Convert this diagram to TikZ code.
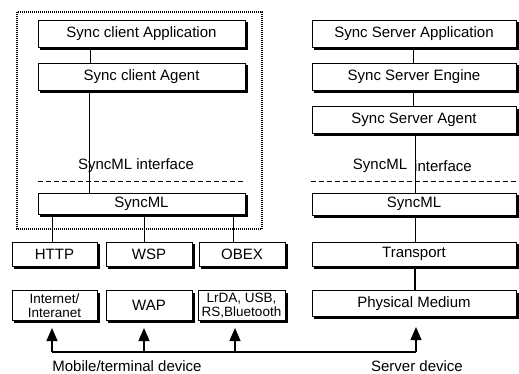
\documentclass[tikz,border=0pt]{standalone}
\usepackage{fontspec}
\setmainfont{Liberation Sans}
\usetikzlibrary{arrows.meta}
\begin{document}
\begin{tikzpicture}[x=1pt,y=-1pt,
  box/.style={draw=black,line width=0.8pt,fill=white,inner sep=0pt,
    font=\fontsize{15}{17}\selectfont},
  bigbox/.style={box,minimum width=#1,minimum height=27pt},
  smallbox/.style={box,minimum width=#1,minimum height=24pt},
  twoline/.style={box,minimum width=#1,minimum height=30pt,align=center,
    font=\fontsize{13.5}{14}\selectfont},
  shade/.style={line width=1.8pt},
  conn/.style={line width=0.9pt},
  arr/.style={line width=1.2pt,-{Triangle[width=11pt,length=13pt]}},
  lbl/.style={font=\fontsize{15}{17}\selectfont,inner sep=0pt},
  sep/.style={line width=0.9pt,dash pattern=on 5pt off 3pt}]
\useasboundingbox (0,0) rectangle (519,373);
\fill[white] (0,0) rectangle (519,373);
% client frame
\draw[line width=1.2pt,dash pattern=on 1pt off 1pt] (17,12) rectangle (262,229);
% client stack
\node[bigbox=207pt] (capp) at (141.5,33.5) {Sync client Application};
\node[bigbox=207pt] (cagent) at (141.5,76.5) {Sync client Agent};
\node[lbl] (cint) at (136,166) {SyncML interface};
\draw[sep] (38,181) -- (245,181);
\node[box,minimum width=207pt,minimum height=21pt] (csml) at (141.5,203.5) {SyncML};
\node[smallbox=85pt] (http) at (54.5,254) {HTTP};
\node[smallbox=86pt] (wsp) at (149,254) {WSP};
\node[smallbox=86pt] (obex) at (242,254) {OBEX};
\node[twoline=85pt] (inet) at (54.5,305.5) {Internet/\\Interanet};
\node[box,minimum width=86pt,minimum height=30pt] (wap) at (149,305.5) {WAP};
\node[twoline=87pt] (lrda) at (241.5,305.5) {LrDA, USB,\\RS,Bluetooth};
% server stack
\node[bigbox=204pt] (sapp) at (414,33.5) {Sync Server Application};
\node[bigbox=204pt] (seng) at (414,76.5) {Sync Server Engine};
\node[bigbox=204pt] (sagent) at (414,120) {Sync Server Agent};
\node[lbl] (ssyn) at (380,166) {SyncML};
\node[lbl] (sint) at (443,166) {interface};
\draw[sep] (311,181) -- (517,181);
\node[box,minimum width=204pt,minimum height=22pt] (ssml) at (414,204) {SyncML};
\node[smallbox=204pt] (trans) at (414,254) {Transport};
\node[box,minimum width=204pt,minimum height=26pt] (phys) at (414,303.5) {Physical Medium};
% box shadows (thick right and bottom edges)
\foreach \n in {capp,cagent,csml,http,wsp,obex,inet,wap,lrda,sapp,seng,sagent,ssml,trans,phys}{
  \draw[shade] ([xshift=1.3pt,yshift=-2.5pt]\n.north east) -- ([xshift=1.3pt,yshift=-1.3pt]\n.south east)
    -- ([xshift=2.5pt,yshift=-1.3pt]\n.south west);
}
% vertical connector positions
\coordinate (xa) at (90,0);
\coordinate (xb) at (89,0);
\coordinate (xh) at (52,0);
\coordinate (xw) at (144,0);
\coordinate (xo) at (233,0);
\coordinate (xs) at (413,0);
\coordinate (xt) at (415,0);
\draw[conn] (capp.south -| xa) -- (cagent.north -| xa);
\draw[conn] (cagent.south -| xb) -- (csml.north -| xb);
\draw[conn] (csml.south -| xh) -- (http.north -| xh);
\draw[conn] (csml.south -| xw) -- (wsp.north -| xw);
\draw[conn] (csml.south -| xo) -- (obex.north -| xo);
\draw[conn] (sapp.south -| xs) -- (seng.north -| xs);
\draw[conn] (seng.south -| xs) -- (sagent.north -| xs);
\draw[conn] (sagent.south -| xt) -- (ssml.north -| xt);
\draw[conn] (ssml.south -| xt) -- (trans.north -| xt);
\draw[line width=1.4pt] (trans.south -| xt) -- (phys.north -| xt);
% arrows
\coordinate (b1) at (52,352);
\coordinate (b2) at (144,352);
\coordinate (b3) at (235,352);
\coordinate (b4) at (416,352);
\coordinate (t1) at (52,328);
\coordinate (t2) at (144,328);
\coordinate (t3) at (235,328);
\coordinate (t4) at (416,327);
\draw[line width=1.2pt] (b1) -- (b4);
\draw[arr] (b1) -- (t1);
\draw[arr] (b2) -- (t2);
\draw[arr] (b3) -- (t3);
\draw[arr] (b4) -- (t4);
\node[lbl] (mob) at (127,366) {Mobile/terminal device};
\node[lbl] (srv) at (417,366) {Server device};
\end{tikzpicture}
\end{document}
